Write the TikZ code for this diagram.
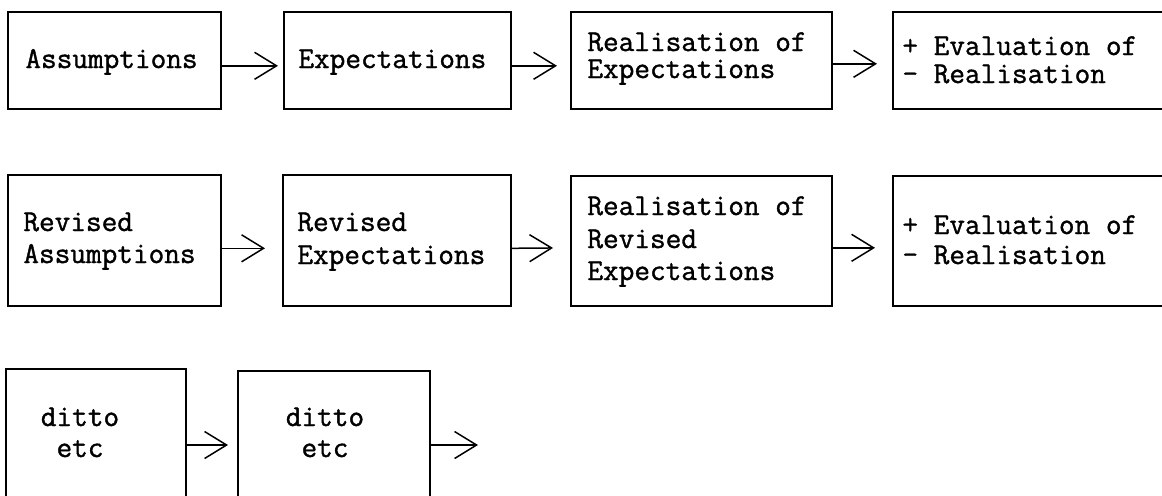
\documentclass[tikz,border=0pt]{standalone}
\usepackage{fontspec}
\newfontfamily\monofnt[FakeBold=1.2]{Latin Modern Mono}
\usetikzlibrary{arrows.meta}
\begin{document}
\begin{tikzpicture}[x=0.5pt,y=-0.5pt,
  box/.style 2 args={draw, line width=0.8pt, inner sep=0pt, anchor=north west,
    minimum width=#1, minimum height=#2},
  txt/.style={anchor=base west, inner sep=0pt,
    font=\monofnt\fontsize{15.2}{16}\selectfont},
  ctxt/.style={anchor=base, inner sep=0pt,
    font=\monofnt\fontsize{15.2}{16}\selectfont},
  arr/.style={-{Straight Barb[length=11pt,width=13.5pt,line width=0.75pt]}, line width=0.75pt}]
\useasboundingbox (0,0) rectangle (1162,495);
\clip (0,0) rectangle (1162,495);

% row 1
\node[box={106.5pt}{48.5pt}] (b11) at (7,11) {};
\node[box={113.5pt}{48.5pt}] (b12) at (283,11) {};
\node[box={130.5pt}{48.5pt}] (b13) at (570,11) {};
\node[box={200pt}{48.5pt}] (b14) at (892,11) {};
\node[txt] (t11) at (25,68) {Assumptions};
\node[txt] (t12) at (298,68) {Expectations};
\node[txt] (t13a) at (587,51) {Realisation of};
\node[txt] (t13b) at (587,78) {Expectations};
\node[txt] (t14a) at (902,55) {+ Evaluation of};
\node[txt] (t14b) at (902,83) {- Realisation};
\draw[arr, shorten >=2.5pt] ([yshift=-2.75pt]b11.east) -- ([yshift=-2.75pt]b12.west);
\draw[arr, shorten >=6.5pt] ([yshift=-2.75pt]b12.east) -- ([yshift=-2.75pt]b13.west);
\draw[arr, shorten >=7.5pt] ([yshift=-1.75pt]b13.east) -- ([yshift=-1.75pt]b14.west);

% row 2
\node[box={106.5pt}{65.5pt}] (b21) at (7,174) {};
\node[box={114pt}{65.5pt}] (b22) at (282,174) {};
\node[box={130.5pt}{65pt}] (b23) at (570,175) {};
\node[box={200pt}{65pt}] (b24) at (892,175) {};
\node[txt] (t21a) at (23,231) {Revised};
\node[txt] (t21b) at (23,263) {Assumptions};
\node[txt] (t22a) at (297,231) {Revised};
\node[txt] (t22b) at (297,264) {Expectations};
\node[txt] (t23a) at (587,215) {Realisation of};
\node[txt] (t23b) at (587,248) {Revised};
\node[txt] (t23c) at (587,280) {Expectations};
\node[txt] (t24a) at (902,234) {+ Evaluation of};
\node[txt] (t24b) at (902,264) {- Realisation};
\draw[arr, shorten >=8.5pt] ([yshift=-4pt]b21.east) -- ([yshift=-4pt]b22.west);
\draw[arr, shorten >=8.5pt] ([yshift=-4pt]b22.east) -- ([yshift=-3.5pt]b23.west);
\draw[arr, shorten >=8.5pt] ([yshift=-3.5pt]b23.east) -- ([yshift=-3.5pt]b24.west);

% row 3
\node[box={90pt}{100pt}] (b31) at (5,368) {};
\node[box={96pt}{100pt}] (b32) at (237,370) {};
\node[ctxt] (t31a) at (80,426) {ditto};
\node[ctxt] (t31b) at (80,457) {etc};
\node[ctxt] (t32a) at (325,426) {ditto};
\node[ctxt] (t32b) at (325,457) {etc};
\coordinate (e3) at (478,445);
\draw[arr, shorten >=4.5pt] (b31.east |- e3) -- (b32.west |- e3);
\draw[arr] (b32.east |- e3) -- (e3);
\end{tikzpicture}
\end{document}
